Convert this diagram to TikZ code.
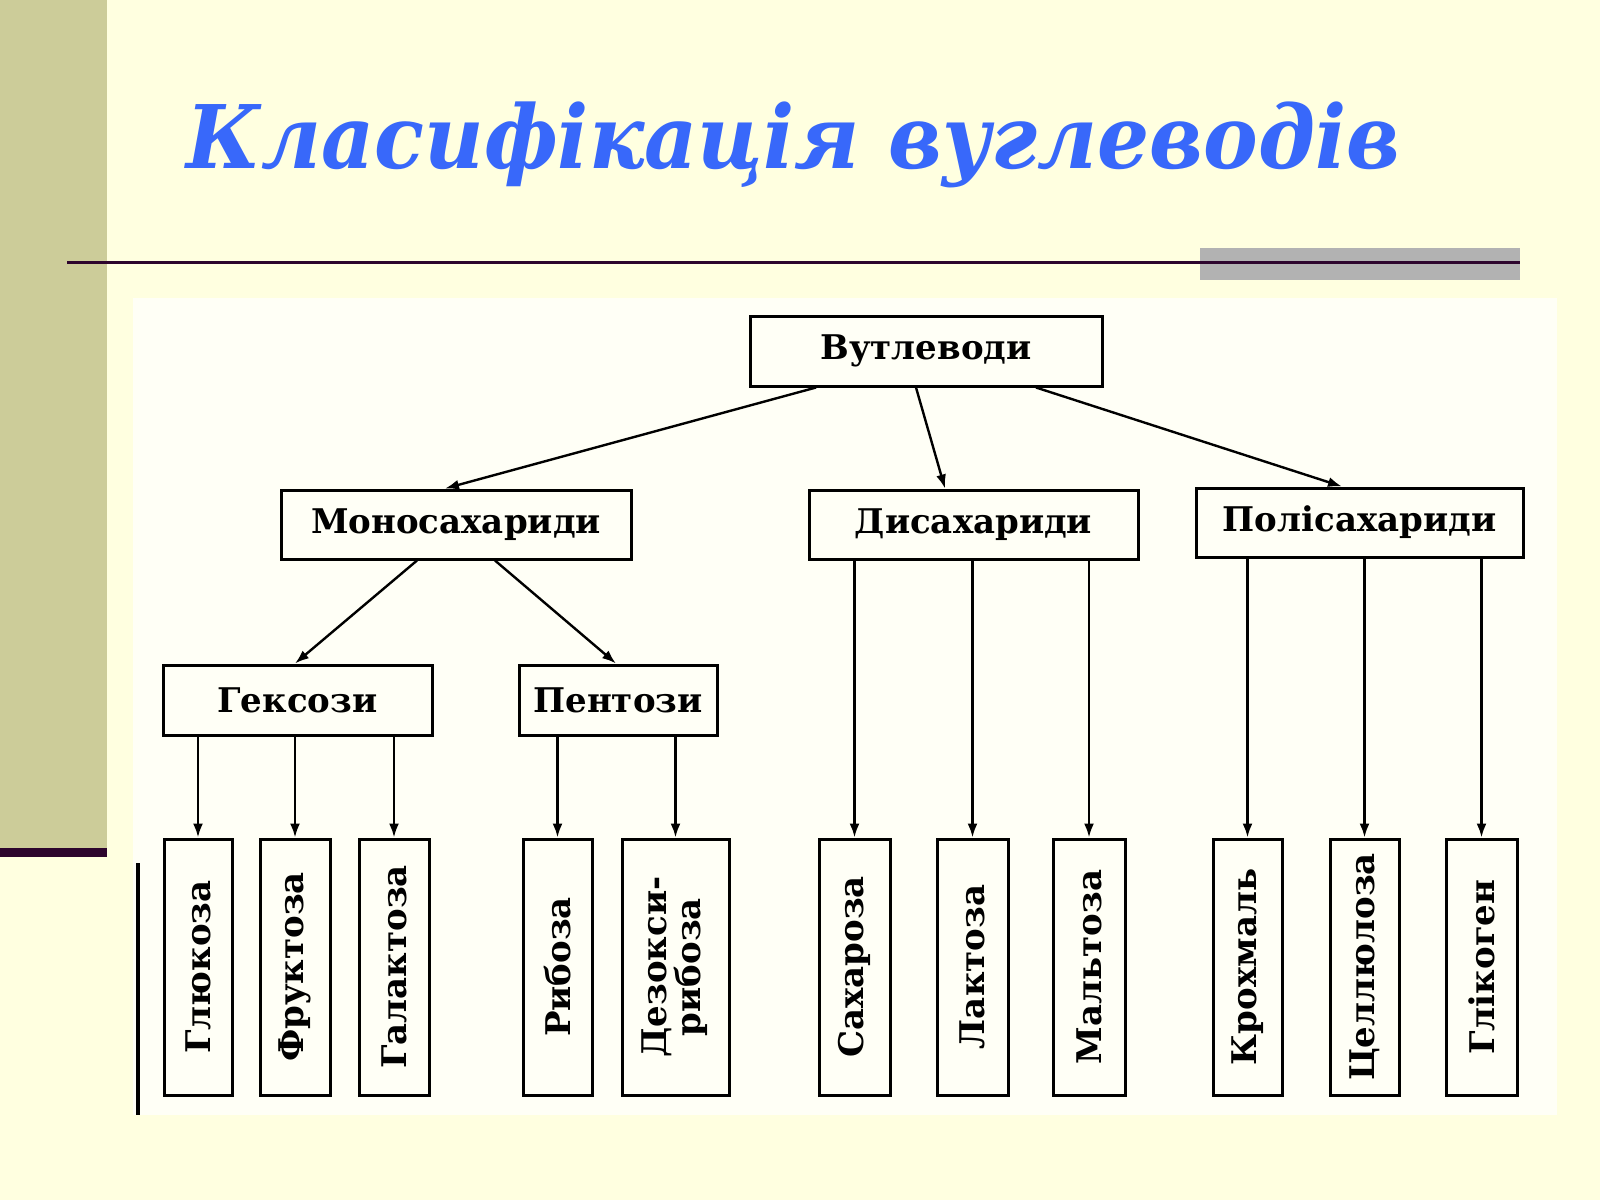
\documentclass[tikz,border=0pt]{standalone}
\usepackage{fontspec}
\setmainfont{DejaVu Serif}
\usetikzlibrary{arrows.meta}
\definecolor{bgcol}{RGB}{255,255,224}
\definecolor{sidecol}{RGB}{204,204,153}
\definecolor{rulecol}{RGB}{45,5,45}
\definecolor{graycol}{RGB}{178,178,178}
\definecolor{titlecol}{RGB}{56,104,250}
\definecolor{areacol}{RGB}{255,255,246}
\newcommand{\labf}{\fontsize{17}{20}\selectfont\bfseries}
\begin{document}
\begin{tikzpicture}[x=0.5pt,y=-0.5pt,
  box/.style={draw=black, line width=1.5pt, fill=areacol, inner sep=0pt, font=\labf},
  leaf/.style={box, minimum height=128pt},
  arr/.style={line width=1.2pt, -{Latex[length=7pt,width=5pt]}}]
\useasboundingbox (0,0) rectangle (1600,1200);
\fill[bgcol] (0,0) rectangle (1600,1200);
\fill[sidecol] (0,0) rectangle (107,850);
\fill[rulecol] (0,848) rectangle (107,857);
\node[anchor=base, text=titlecol, yscale=1.07, font=\fontsize{41}{46}\selectfont\bfseries\itshape] (title) at (793.5,168) {Класифікація вуглеводів};
\fill[graycol] (1200,248) rectangle (1520,280);
\coordinate (r1) at (67,262);
\coordinate (r2) at (1520,262);
\draw[rulecol, line width=1.5pt] (r1) -- (r2);
\fill[areacol] (133,298) rectangle (1557,1115);
\draw[black, line width=2pt] (138,863) -- (138,1115);
% top levels
\node[box, minimum width=176pt, minimum height=35pt] (vut) at (926,351) {Вутлеводи};
\node[box, minimum width=175pt, minimum height=34.5pt] (mono) at (456,524.5) {Моносахариди};
\node[box, minimum width=164.5pt, minimum height=34.5pt] (dis) at (973.5,524.5) {Дисахариди};
\node[box, minimum width=163.5pt, minimum height=34.5pt] (poly) at (1359.5,522.5) {Полісахариди};
\node[box, minimum width=134.5pt, minimum height=35pt] (hex) at (297.5,700) {Гексози};
\node[box, minimum width=99pt, minimum height=35pt] (pent) at (618,700) {Пентози};
% leaves
\node[leaf, minimum width=34pt] (gluk) at (198,967) {\rotatebox{90}{Глюкоза}};
\node[leaf, minimum width=35pt] (fruk) at (295,967) {\rotatebox{90}{Фруктоза}};
\node[leaf, minimum width=35pt] (galak) at (394,967) {\rotatebox{90}{Галактоза}};
\node[leaf, minimum width=34.5pt] (ryb) at (557.5,967) {\rotatebox{90}{Рибоза}};
\node[leaf, minimum width=53.5pt] (dez) at (675.5,967) {\rotatebox{90}{\begin{tabular}{@{}c@{}}Дезокси-\\[-3pt]рибоза\end{tabular}}};
\node[leaf, minimum width=35.5pt] (sakh) at (854.5,967) {\rotatebox{90}{Сахароза}};
\node[leaf, minimum width=35.5pt] (lakt) at (972.5,967) {\rotatebox{90}{Лактоза}};
\node[leaf, minimum width=36pt] (malt) at (1089,967) {\rotatebox{90}{Мальтоза}};
\node[leaf, minimum width=34.5pt] (krokh) at (1247.5,967) {\rotatebox{90}{Крохмаль}};
\node[leaf, minimum width=34.5pt] (cell) at (1364.5,967) {\rotatebox{90}{Целлюлоза}};
\node[leaf, minimum width=35.5pt] (glik) at (1481.5,967) {\rotatebox{90}{Глікоген}};
% connectors
\draw[arr] ([xshift=-55pt]vut.south) -- ([xshift=-5.5pt]mono.north);
\draw[arr] ([xshift=-5pt]vut.south) -- ([xshift=-14.25pt]dis.north);
\draw[arr] ([xshift=55pt]vut.south) -- ([xshift=-8.75pt]poly.north);
\draw[arr] ([xshift=-19.5pt]mono.south) -- ([xshift=-1.25pt]hex.north);
\draw[arr] ([xshift=19.5pt]mono.south) -- ([xshift=-1pt]pent.north);
\foreach \c in {gluk,fruk,galak}{\draw[arr] (hex.south -| \c) -- (\c.north);}
\foreach \c in {ryb,dez}{\draw[arr] (pent.south -| \c) -- (\c.north);}
\foreach \c in {sakh,lakt,malt}{\draw[arr] (dis.south -| \c) -- (\c.north);}
\foreach \c in {krokh,cell,glik}{\draw[arr] (poly.south -| \c) -- (\c.north);}
\end{tikzpicture}
\end{document}
